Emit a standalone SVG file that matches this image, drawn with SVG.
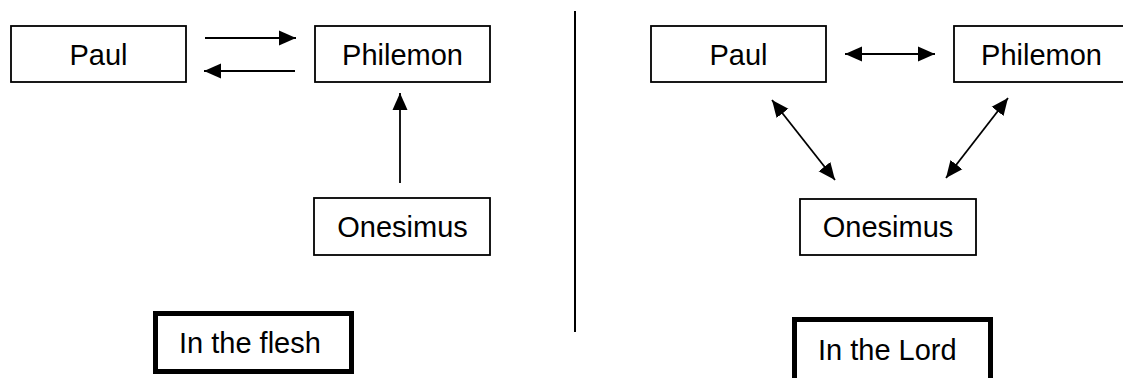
<svg xmlns="http://www.w3.org/2000/svg" width="1123" height="378" viewBox="0 0 1123 378">
<style>
.box{fill:#fff;stroke:#000;stroke-width:1.8}
.thick{fill:#fff;stroke:#000;stroke-width:5}
.lbl{font-family:"Liberation Sans",Arial,sans-serif;font-size:29px;fill:#000;text-anchor:middle}
.lbl2{font-family:"Liberation Sans",Arial,sans-serif;font-size:29px;fill:#000}
.con{stroke:#000;stroke-width:1.8;fill:none}
</style>
<defs>
<marker id="ah" markerUnits="userSpaceOnUse" markerWidth="17" markerHeight="16" viewBox="0 0 17 16" refX="17" refY="8" orient="auto">
<path d="M0,0.5 L17,8 L0,15.5 Z" fill="#000"/>
</marker>
<marker id="as" markerUnits="userSpaceOnUse" markerWidth="17" markerHeight="16" viewBox="0 0 17 16" refX="0" refY="8" orient="auto">
<path d="M17,0.5 L0,8 L17,15.5 Z" fill="#000"/>
</marker>
</defs>
<g id="connectors">
<line class="con" x1="205" y1="38" x2="296" y2="38" marker-end="url(#ah)"/>
<line class="con" x1="295" y1="71" x2="204" y2="71" marker-end="url(#ah)"/>
<line class="con" x1="400" y1="183" x2="400" y2="93" marker-end="url(#ah)"/>
<line class="con" x1="845" y1="54" x2="935" y2="54" marker-start="url(#as)" marker-end="url(#ah)"/>
<line class="con" x1="772" y1="100" x2="835" y2="180" marker-start="url(#as)" marker-end="url(#ah)"/>
<line class="con" x1="946" y1="178" x2="1008" y2="98" marker-start="url(#as)" marker-end="url(#ah)"/>
</g>
<g id="divider"><line x1="575" y1="11" x2="575" y2="332" stroke="#000" stroke-width="2"/></g>
<g id="paul-left"><rect class="box" x="11" y="26" width="175" height="56"/><text class="lbl" x="98.5" y="64.5">Paul</text></g>
<g id="philemon-left"><rect class="box" x="315" y="26" width="175" height="56"/><text class="lbl" x="402.5" y="64.5">Philemon</text></g>
<g id="onesimus-left"><rect class="box" x="314" y="198" width="176" height="57"/><text class="lbl" x="402.5" y="237">Onesimus</text></g>
<g id="flesh"><rect class="thick" x="155.5" y="313.5" width="196" height="58"/><text class="lbl2" x="179" y="353">In the flesh</text></g>
<g id="paul-right"><rect class="box" x="651" y="26" width="175" height="56"/><text class="lbl" x="738.5" y="64.5">Paul</text></g>
<g id="philemon-right"><rect class="box" x="954" y="26" width="175" height="56"/><text class="lbl" x="1041.5" y="64.5">Philemon</text></g>
<g id="onesimus-right"><rect class="box" x="800" y="199" width="176" height="56"/><text class="lbl" x="888" y="237">Onesimus</text></g>
<g id="lord"><rect class="thick" x="794.5" y="319.5" width="196" height="64"/><text class="lbl2" x="818" y="360">In the Lord</text></g>
</svg>
